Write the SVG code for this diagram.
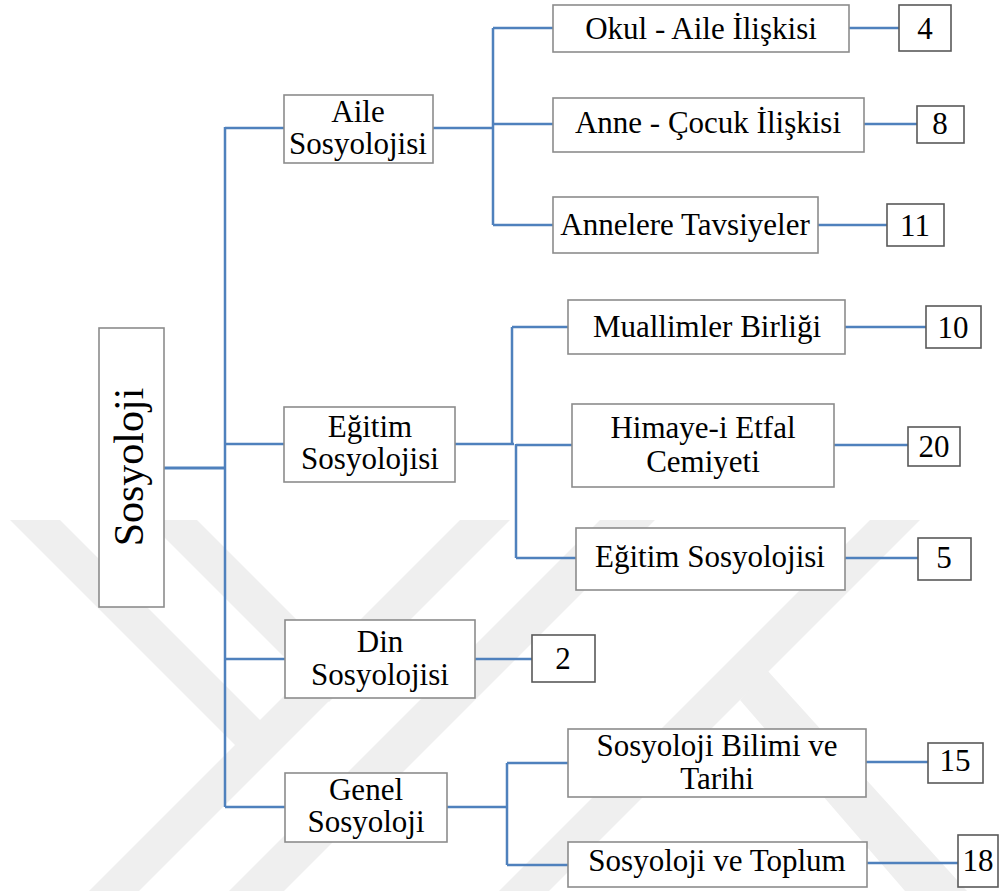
<svg xmlns="http://www.w3.org/2000/svg" width="1000" height="891" viewBox="0 0 1000 891">
<style>
.bg{fill:#ffffff}
.wm{fill:#efefef}
.box{fill:#ffffff;stroke:#8c8c8c;stroke-width:1.6}
.num{fill:#ffffff;stroke:#595959;stroke-width:1.6}
.t{font-size:31px;fill:#000000;text-anchor:middle}
.root{font-size:42px}
.c{fill:none;stroke:#4f81bd;stroke-width:2.5}
</style>
<rect class="bg" x="0" y="0" width="1000" height="891"/>
<g id="watermark">
<polygon class="wm" points="10,520 60,520 265,725 240,750"/>
<polygon class="wm" points="147,520 197,520 354,677 329,702"/>
<polygon class="wm" points="460,520 510,520 139,891 89,891"/>
<polygon class="wm" points="600,520 655,520 284,891 229,891"/>
<polygon class="wm" points="870,520 920,520 549,891 499,891"/>
<polygon class="wm" points="767,670 967,891 905,891 740,700"/>
</g>
<g id="connectors">
<path class="c" style="stroke-width:3" d="M164,468 H225"/>
<path class="c" d="M225,127 V807"/>
<path class="c" d="M225,128 H284 M225,444 H284 M225,659 H285 M225,807 H285"/>
<path class="c" d="M433,128 H493 M493,28 V225 M493,28 H553 M493,124 H553 M493,225 H553"/>
<path class="c" d="M849,28 H899 M864,124 H917 M818,225 H887"/>
<path class="c" d="M455,444 H514 M512,327 V444 M512,327 H569 M516,444 V558 M516,445 H572 M516,558 H576"/>
<path class="c" d="M845,327 H926 M834,445 H908 M845,558 H918"/>
<path class="c" d="M475,659 H532"/>
<path class="c" d="M447,807 H507 M507,763 V865 M507,763 H568 M507,865 H568"/>
<path class="c" d="M866,762 H928 M867,863 H958"/>
</g>
<g font-family="'Liberation Serif', Tinos, 'Times New Roman', 'DejaVu Serif', serif">
<g id="n-sosyoloji"><rect class="box" x="99" y="328" width="65" height="279"/><text class="t root" transform="translate(143,467) rotate(-90)" x="0" y="0">Sosyoloji</text></g>
<g id="n-aile"><rect class="box" x="284" y="95" width="149" height="68"/><text class="t" x="358" y="122">Aile</text><text class="t" x="358" y="154">Sosyolojisi</text></g>
<g id="n-okul"><rect class="box" x="553" y="5" width="296" height="47"/><text class="t" x="701" y="39">Okul - Aile İlişkisi</text></g>
<g id="n-anne"><rect class="box" x="553" y="98" width="311" height="54"/><text class="t" x="708" y="133">Anne - Çocuk İlişkisi</text></g>
<g id="n-annelere"><rect class="box" x="553" y="197" width="265" height="56"/><text class="t" x="685" y="235">Annelere Tavsiyeler</text></g>
<g id="n-4"><rect class="num" x="899" y="5" width="52" height="46"/><text class="t" x="925" y="39">4</text></g>
<g id="n-8"><rect class="num" x="917" y="106" width="47" height="37"/><text class="t" x="940" y="134">8</text></g>
<g id="n-11"><rect class="num" x="887" y="204" width="57" height="42"/><text class="t" x="915" y="236">11</text></g>
<g id="n-egitim"><rect class="box" x="284" y="407" width="171" height="75"/><text class="t" x="370" y="437">Eğitim</text><text class="t" x="370" y="469">Sosyolojisi</text></g>
<g id="n-muallimler"><rect class="box" x="568" y="300" width="277" height="54"/><text class="t" x="707" y="337">Muallimler Birliği</text></g>
<g id="n-10"><rect class="num" x="926" y="306" width="55" height="42"/><text class="t" x="953" y="338">10</text></g>
<g id="n-himaye"><rect class="box" x="572" y="404" width="262" height="83"/><text class="t" x="703" y="438">Himaye-i Etfal</text><text class="t" x="703" y="472">Cemiyeti</text></g>
<g id="n-20"><rect class="num" x="908" y="427" width="52" height="39"/><text class="t" x="934" y="457">20</text></g>
<g id="n-egitim2"><rect class="box" x="576" y="528" width="269" height="62"/><text class="t" x="710" y="567">Eğitim Sosyolojisi</text></g>
<g id="n-5"><rect class="num" x="918" y="538" width="53" height="42"/><text class="t" x="944" y="568">5</text></g>
<g id="n-din"><rect class="box" x="285" y="620" width="190" height="78"/><text class="t" x="380" y="652">Din</text><text class="t" x="380" y="685">Sosyolojisi</text></g>
<g id="n-2"><rect class="num" x="532" y="635" width="63" height="47"/><text class="t" x="563" y="669">2</text></g>
<g id="n-genel"><rect class="box" x="285" y="773" width="162" height="69"/><text class="t" x="366" y="800">Genel</text><text class="t" x="366" y="832">Sosyoloji</text></g>
<g id="n-bilim"><rect class="box" x="568" y="729" width="298" height="68"/><text class="t" x="717" y="756">Sosyoloji Bilimi ve</text><text class="t" x="717" y="789">Tarihi</text></g>
<g id="n-15"><rect class="num" x="928" y="743" width="55" height="40"/><text class="t" x="955" y="771">15</text></g>
<g id="n-toplum"><rect class="box" x="568" y="842" width="299" height="45"/><text class="t" x="717" y="871">Sosyoloji ve Toplum</text></g>
<g id="n-18"><rect class="num" x="958" y="835" width="40" height="52"/><text class="t" x="978" y="871">18</text></g>
</g>
</svg>
